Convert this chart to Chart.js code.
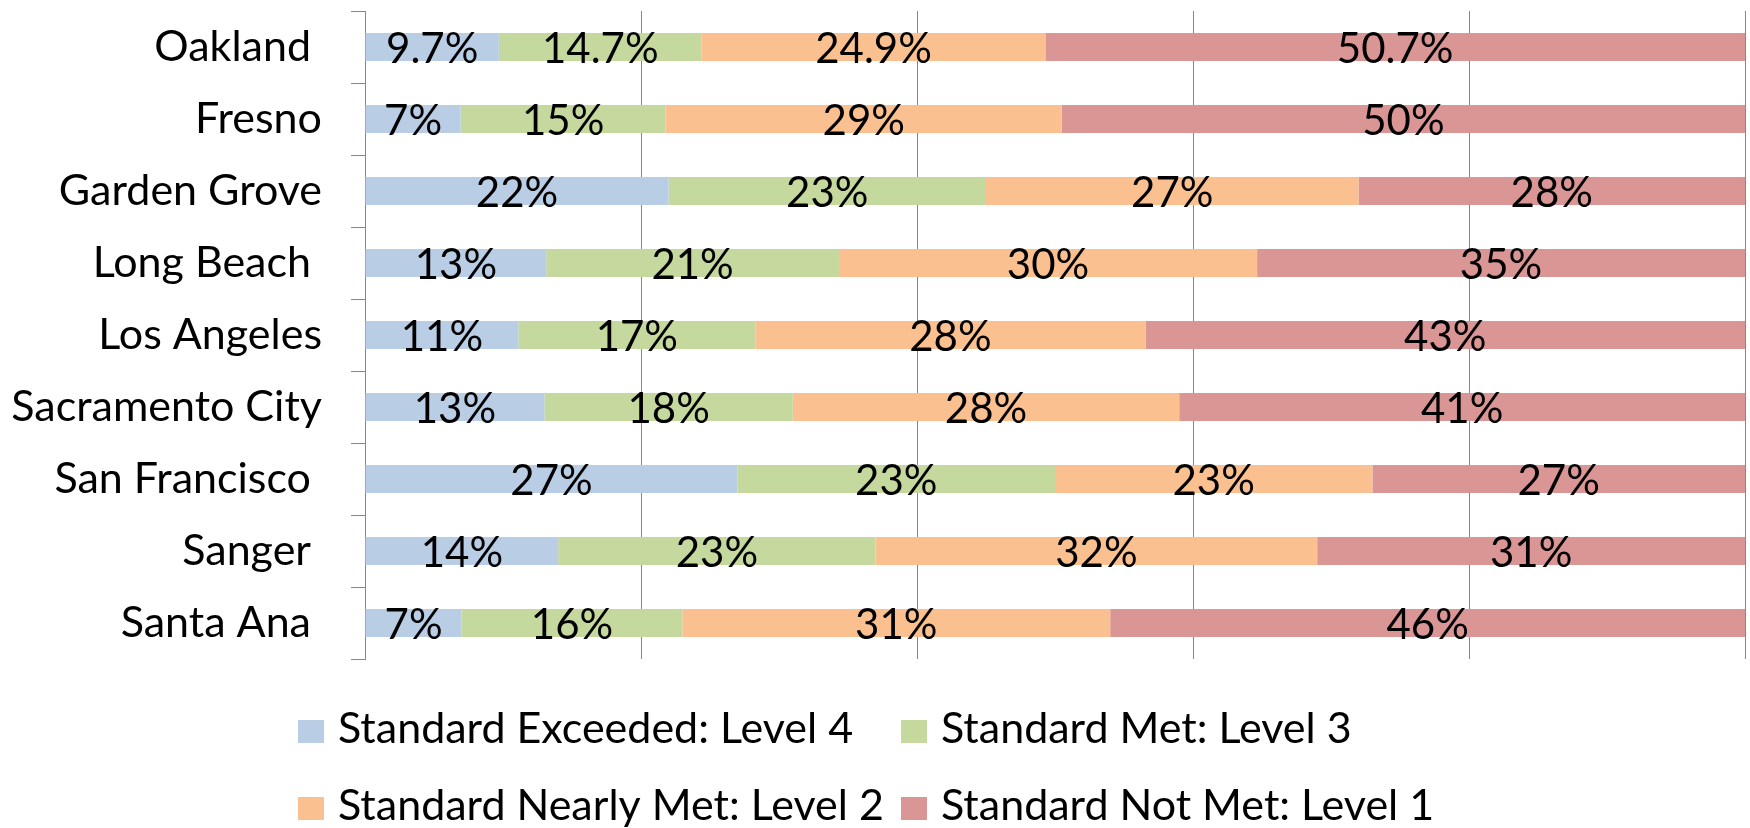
<!DOCTYPE html>
<html>
<head>
<meta charset="utf-8">
<title>Standard levels by district</title>
<script src="https://cdn.jsdelivr.net/npm/chart.js@4.4.1/dist/chart.umd.min.js"></script>
<style>
    html, body { margin: 0; padding: 0; background: #ffffff; }
    #wrap { width: 1750px; height: 828px; }
</style>
</head>
<body>
<div id="wrap"><canvas id="chart" width="1750" height="828"></canvas></div>
<script>
// Districts (trailing spaces kept as in the original labels)
const categories = ['Oakland ', 'Fresno', 'Garden Grove', 'Long Beach ', 'Los Angeles',
    'Sacramento City', 'San Francisco ', 'Sanger ', 'Santa Ana '];

// Percent of students per level, as printed on the bars
const exceeded = [9.7, 7, 22, 13, 11, 13, 27, 14, 7];
const met      = [14.7, 15, 23, 21, 17, 18, 23, 23, 16];
const nearly   = [24.9, 29, 27, 30, 28, 28, 23, 32, 31];
const notMet   = [50.7, 50, 28, 35, 43, 41, 27, 31, 46];

const seriesNames = ['Standard Exceeded: Level 4', 'Standard Met: Level 3',
    'Standard Nearly Met: Level 2', 'Standard Not Met: Level 1'];

const xTicks = [0, 20, 40, 60, 80, 100];

const colors = {
    exceeded: '#b9cde5',
    met: '#c5d89e',
    nearly: '#fac08f',
    notMet: '#d99694',
    grid: '#868686',
    text: '#000000'
};

const FONT = 'Lato, "Open Sans", sans-serif';

// rows don't always add up to 100, the chart stacks them to 100%
const totals = categories.map((_, i) => exceeded[i] + met[i] + nearly[i] + notMet[i]);
const share = (arr) => arr.map((v, i) => v / totals[i] * 100);

function makeDataset(label, values, color) {
    return {
        label: label,
        data: share(values),
        printed: values,
        backgroundColor: color,
        borderWidth: 0,
        categoryPercentage: 1,
        barPercentage: 0.39
    };
}

// Labels centred in each segment
const segmentLabels = {
    id: 'segmentLabels',
    afterDatasetsDraw(chart) {
        const ctx = chart.ctx;
        ctx.save();
        ctx.font = '42px ' + FONT;
        ctx.fillStyle = colors.text;
        ctx.textAlign = 'center';
        ctx.textBaseline = 'middle';
        chart.data.datasets.forEach((ds, di) => {
            const meta = chart.getDatasetMeta(di);
            meta.data.forEach((bar, i) => {
                const p = bar.getProps(['x', 'y', 'base'], true);
                ctx.fillText(ds.printed[i] + '%', (p.x + p.base) / 2, p.y + 2);
            });
        });
        ctx.restore();
    }
};

// Legend laid out as a 2 x 2 grid under the plot
const gridLegend = {
    id: 'gridLegend',
    afterDraw(chart, args, opts) {
        const ctx = chart.ctx;
        ctx.save();
        ctx.font = opts.font;
        ctx.textBaseline = 'alphabetic';
        ctx.textAlign = 'left';
        chart.data.datasets.forEach((ds, i) => {
            const x = opts.columns[i % 2];
            const base = opts.rows[Math.floor(i / 2)];
            ctx.fillStyle = ds.backgroundColor;
            ctx.fillRect(x, base - opts.boxH, opts.boxW, opts.boxH);
            ctx.fillStyle = colors.text;
            ctx.fillText(ds.label, x + opts.boxW + 14, base);
        });
        ctx.restore();
    }
};

new Chart(document.getElementById('chart'), {
    type: 'bar',
    data: {
        labels: categories,
        datasets: [
            makeDataset(seriesNames[0], exceeded, colors.exceeded),
            makeDataset(seriesNames[1], met, colors.met),
            makeDataset(seriesNames[2], nearly, colors.nearly),
            makeDataset(seriesNames[3], notMet, colors.notMet)
        ]
    },
    plugins: [segmentLabels, gridLegend],
    options: {
        indexAxis: 'y',
        responsive: false,
        animation: false,
        devicePixelRatio: 1,
        layout: {
            padding: { top: 11, right: 5, bottom: 169, left: 0 }
        },
        plugins: {
            legend: { display: false },
            tooltip: { enabled: false },
            gridLegend: {
                font: '43px ' + FONT,
                columns: [298, 901],
                rows: [743, 820],
                boxW: 26,
                boxH: 23
            }
        },
        scales: {
            x: {
                stacked: true,
                min: 0,
                max: 100,
                afterBuildTicks(scale) {
                    scale.ticks = xTicks.map(v => ({ value: v }));
                },
                afterFit(scale) {
                    scale.height = 0;
                    scale.paddingLeft = 0;
                    scale.paddingRight = 0;
                },
                ticks: { display: false },
                border: { display: false },
                grid: { color: colors.grid, lineWidth: 1, drawTicks: false }
            },
            y: {
                stacked: true,
                afterFit(scale) {
                    scale.width = 365;
                    scale.paddingTop = 0;
                    scale.paddingBottom = 0;
                },
                border: { display: true, color: colors.grid, width: 1 },
                grid: {
                    offset: true,
                    drawOnChartArea: false,
                    drawTicks: true,
                    tickLength: 14,
                    color: colors.grid
                },
                ticks: {
                    color: colors.text,
                    padding: 29,
                    font: { family: FONT, size: 43 }
                }
            }
        }
    }
});
</script>
</body>
</html>
